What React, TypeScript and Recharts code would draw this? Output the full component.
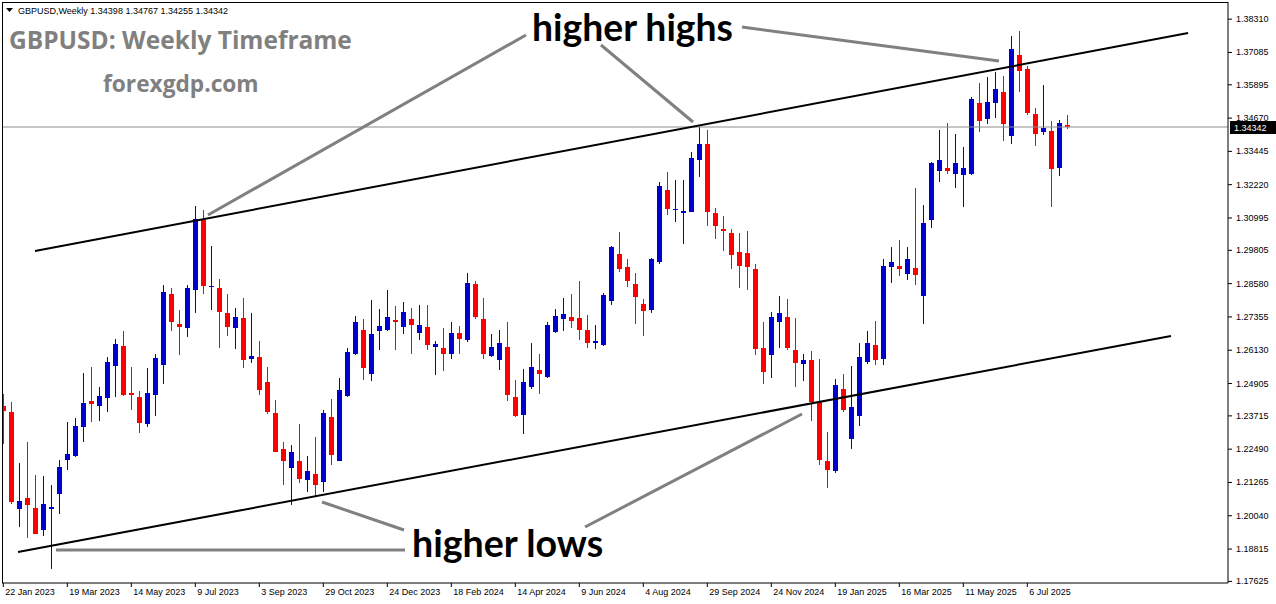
import React from 'react'
import { ComposedChart, Bar, XAxis, YAxis, ReferenceLine } from 'recharts'

// weekly candles, GBPUSD, week of 22 Jan 2023 .. week of 10 Aug 2025
const opens = [
  1.2407, 1.2386, 1.2030, 1.2071, 1.2033, 1.1952, 1.2030, 1.2085, 1.2210, 1.2224,
  1.2329, 1.2425, 1.2409, 1.2438, 1.2556, 1.2628, 1.2455, 1.2441, 1.2340, 1.2448,
  1.2560, 1.2819, 1.2711, 1.2693, 1.2833, 1.3092, 1.2846, 1.2841, 1.2750, 1.2693,
  1.2732, 1.2580, 1.2587, 1.2495, 1.2382, 1.2251, 1.2181, 1.2206, 1.2134, 1.2156,
  1.2130, 1.2368, 1.2207, 1.2445, 1.2598, 1.2686, 1.2527, 1.2682, 1.2688, 1.2725,
  1.2700, 1.2728, 1.2678, 1.2699, 1.2624, 1.2621, 1.2598, 1.2677, 1.2649, 1.2857,
  1.2728, 1.2592, 1.2577, 1.2625, 1.2441, 1.2376, 1.2479, 1.2541, 1.2515, 1.2681,
  1.2729, 1.2736, 1.2732, 1.2686, 1.2638, 1.2634, 1.2794, 1.2968, 1.2919, 1.2857,
  1.2782, 1.2762, 1.2936, 1.3202, 1.3128, 1.3116, 1.3120, 1.3311, 1.3372, 1.3118,
  1.3058, 1.3045, 1.2974, 1.2972, 1.2912, 1.2621, 1.2594, 1.2718, 1.2736, 1.2614,
  1.2564, 1.2577, 1.2423, 1.2206, 1.2168, 1.2472, 1.2285, 1.2372, 1.2570, 1.2634,
  1.2582, 1.2918, 1.2923, 1.2894, 1.2916, 1.2814, 1.3092, 1.3272, 1.3285, 1.3260,
  1.3256, 1.3262, 1.3524, 1.3462, 1.3522, 1.3563, 1.3400, 1.3700, 1.3649, 1.3483,
  1.3415, 1.3420, 1.3282, 1.34398,
]
const highs = [
  1.2452, 1.2423, 1.2199, 1.2275, 1.2154, 1.2150, 1.2116, 1.2210, 1.2348, 1.2365,
  1.2528, 1.2552, 1.2479, 1.2589, 1.2653, 1.2684, 1.2552, 1.2462, 1.2548, 1.2598,
  1.2854, 1.2843, 1.2760, 1.2852, 1.3143, 1.3130, 1.2995, 1.2876, 1.2821, 1.2767,
  1.2804, 1.2750, 1.2648, 1.2552, 1.2431, 1.2274, 1.2264, 1.2340, 1.2224, 1.2293,
  1.2393, 1.2434, 1.2510, 1.2620, 1.2739, 1.2728, 1.2798, 1.2765, 1.2833, 1.2776,
  1.2790, 1.2769, 1.2780, 1.2778, 1.2648, 1.2693, 1.2715, 1.2703, 1.2897, 1.2866,
  1.2805, 1.2674, 1.2688, 1.2715, 1.2504, 1.2545, 1.2639, 1.2599, 1.2717, 1.2765,
  1.2805, 1.2821, 1.2866, 1.2743, 1.2706, 1.2822, 1.2995, 1.3048, 1.2947, 1.2898,
  1.2801, 1.2952, 1.3231, 1.3269, 1.3240, 1.3238, 1.3344, 1.3434, 1.3425, 1.3138,
  1.3106, 1.3060, 1.3045, 1.3053, 1.2930, 1.2718, 1.2754, 1.2814, 1.2801, 1.2732,
  1.2598, 1.2610, 1.2582, 1.2312, 1.2508, 1.2526, 1.2556, 1.2638, 1.2684, 1.2721,
  1.2949, 1.2991, 1.3020, 1.2994, 1.3210, 1.3148, 1.3304, 1.3425, 1.3448, 1.3408,
  1.3362, 1.3544, 1.3595, 1.3618, 1.3635, 1.3623, 1.3769, 1.3789, 1.3659, 1.3503,
  1.3589, 1.3455, 1.3461, 1.34767,
]
const lows = [
  1.2268, 1.2049, 1.1963, 1.1922, 1.1936, 1.1929, 1.1808, 1.2012, 1.2171, 1.2220,
  1.2275, 1.2348, 1.2354, 1.2386, 1.2441, 1.2445, 1.2393, 1.2310, 1.2330, 1.2372,
  1.2490, 1.2684, 1.2594, 1.2660, 1.2750, 1.2818, 1.2762, 1.2621, 1.2667, 1.2618,
  1.2549, 1.2566, 1.2448, 1.2379, 1.2238, 1.2116, 1.2042, 1.2125, 1.2092, 1.2074,
  1.2092, 1.2189, 1.2207, 1.2441, 1.2594, 1.2504, 1.2501, 1.2614, 1.2684, 1.2612,
  1.2672, 1.2598, 1.2652, 1.2614, 1.2520, 1.2538, 1.2582, 1.2600, 1.2645, 1.2728,
  1.2580, 1.2587, 1.2542, 1.2427, 1.2369, 1.2303, 1.2469, 1.2451, 1.2510, 1.2677,
  1.2682, 1.2696, 1.2649, 1.2621, 1.2617, 1.2628, 1.2778, 1.2902, 1.2847, 1.2708,
  1.2667, 1.2749, 1.2930, 1.3109, 1.3085, 1.3002, 1.3120, 1.3249, 1.3071, 1.3024,
  1.2977, 1.2911, 1.2843, 1.2836, 1.2596, 1.2490, 1.2509, 1.2620, 1.2612, 1.2476,
  1.2501, 1.2354, 1.2192, 1.2105, 1.2161, 1.2386, 1.2251, 1.2335, 1.2563, 1.2559,
  1.2559, 1.2862, 1.2887, 1.2873, 1.2854, 1.2711, 1.3064, 1.3233, 1.3261, 1.3210,
  1.3141, 1.3258, 1.3415, 1.3445, 1.3466, 1.3382, 1.3371, 1.3562, 1.3480, 1.3366,
  1.3404, 1.3141, 1.3253, 1.34255,
]
const closes = [
  1.2390, 1.2053, 1.2057, 1.2044, 1.1938, 1.2046, 1.2035, 1.2182, 1.2233, 1.2333,
  1.2418, 1.2416, 1.2445, 1.2570, 1.2637, 1.2448, 1.2448, 1.2347, 1.2455, 1.2584,
  1.2826, 1.2718, 1.2700, 1.2841, 1.3096, 1.2850, 1.2850, 1.2753, 1.2700, 1.2735,
  1.2577, 1.2592, 1.2465, 1.2386, 1.2240, 1.2207, 1.2240, 1.2141, 1.2168, 1.2118,
  1.2382, 1.2229, 1.2467, 1.2607, 1.2715, 1.2549, 1.2672, 1.2703, 1.2736, 1.2718,
  1.2754, 1.2704, 1.2706, 1.2634, 1.2637, 1.2600, 1.2677, 1.2656, 1.2861, 1.2736,
  1.2600, 1.2625, 1.2639, 1.2448, 1.2371, 1.2497, 1.2552, 1.2527, 1.2706, 1.2739,
  1.2747, 1.2722, 1.2689, 1.2639, 1.2648, 1.2817, 1.2991, 1.2912, 1.2866, 1.2807,
  1.2758, 1.2949, 1.3218, 1.3131, 1.3134, 1.3125, 1.3321, 1.3373, 1.3120, 1.3070,
  1.3052, 1.2962, 1.2922, 1.2920, 1.2617, 1.2534, 1.2736, 1.2749, 1.2621, 1.2566,
  1.2577, 1.2423, 1.2210, 1.2174, 1.2485, 1.2393, 1.2405, 1.2589, 1.2638, 1.2578,
  1.2923, 1.2938, 1.2913, 1.2947, 1.2891, 1.3081, 1.3300, 1.3314, 1.3271, 1.3303,
  1.3285, 1.3539, 1.3455, 1.3528, 1.3574, 1.3445, 1.3722, 1.3642, 1.3487, 1.3407,
  1.3431, 1.3278, 1.3449, 1.34342,
]

// bottom axis: candle index of each date label
const dateTicks = [0, 8, 16, 24, 32, 40, 48, 56, 64, 72, 80, 88, 96, 104, 112, 120, 128]
const dateLabels = [
  '22 Jan 2023', '19 Mar 2023', '14 May 2023', '9 Jul 2023', '3 Sep 2023', '29 Oct 2023',
  '24 Dec 2023', '18 Feb 2024', '14 Apr 2024', '9 Jun 2024', '4 Aug 2024', '29 Sep 2024',
  '24 Nov 2024', '19 Jan 2025', '16 Mar 2025', '11 May 2025', '6 Jul 2025',
]
const priceTicks = [
  1.3831, 1.37085, 1.35895, 1.3467, 1.33445, 1.3222, 1.30995, 1.29805, 1.2858,
  1.27355, 1.2613, 1.24905, 1.23715, 1.2249, 1.21265, 1.2004, 1.18815, 1.17625,
]

const lastPrice = 1.34342

// channel lines, [candle index, price]
const upperChannel = [[3.96, 1.2978], [148.1, 1.378]]
const lowerChannel = [[1.84, 1.18706], [145.96, 1.26653]]

const data = opens.map((open, i) => ({
  i,
  open,
  high: highs[i],
  low: lows[i],
  close: closes[i],
  range: [lows[i], highs[i]],
}))

const UP = '#0000CC'
const DOWN = '#FF0000'
const AXIS_FONT = '"Liberation Sans", Arial, sans-serif'

function Candle(props: any) {
  const { x, y, width, height, payload } = props
  const top = Math.min(y, y + height)
  const h = Math.abs(height)
  const { open, high, low, close } = payload
  const span = high - low || 1
  const py = (v: number) => top + ((high - v) / span) * h
  const color = close >= open ? UP : DOWN
  const cx = Math.round(x + width / 2)
  const bTop = py(Math.max(open, close))
  const bBot = py(Math.min(open, close))
  return (
    <g shapeRendering="crispEdges">
      <rect x={cx} y={top} width={1} height={Math.max(1, h)} fill={color} />
      <rect x={cx - 2} y={bTop} width={5} height={Math.max(1, bBot - bTop)} fill={color} />
    </g>
  )
}

function DateTick(props: any) {
  const { x, payload } = props
  const k = dateTicks.indexOf(payload.value)
  return (
    <text x={x + 2} y={595} fontSize={9} fontFamily={AXIS_FONT} fill="#000">
      {dateLabels[k]}
    </text>
  )
}

function PriceTick(props: any) {
  const { x, y, payload } = props
  return (
    <text x={x + 2} y={y + 3} fontSize={9} fontFamily={AXIS_FONT} fill="#000">
      {payload.value.toFixed(5)}
    </text>
  )
}

function PriceTag(props: any) {
  const vb = props.viewBox || {}
  const x = vb.x + vb.width + 2
  const y = vb.y
  return (
    <g>
      <rect x={x} y={y - 6} width={46} height={13} fill="#000" />
      <text x={x + 4} y={y + 4} fontSize={9} fontFamily={AXIS_FONT} fill="#fff">
        {lastPrice.toFixed(5)}
      </text>
    </g>
  )
}

const pointers = [
  [526, 35, 208, 215],
  [601, 45, 693, 122],
  [742, 27, 999, 61],
  [56, 550, 405, 550],
  [322, 502, 404, 530],
  [585, 527, 802, 414],
]

export default function App() {
  return (
    <div style={{ position: 'absolute', left: 0, top: 0, width: 1276, height: 604, background: '#fff' }}>
      <ComposedChart
        width={1276}
        height={604}
        data={data}
        margin={{ top: 2, right: 0, bottom: 0, left: 2 }}
      >
        <XAxis
          dataKey="i"
          type="number"
          domain={[-0.1625, 153.0875]}
          allowDataOverflow
          ticks={dateTicks}
          interval={0}
          tick={<DateTick />}
          height={21}
          tickSize={4}
          axisLine={{ stroke: '#000' }}
          tickLine={{ stroke: '#000' }}
        />
        <YAxis
          orientation="right"
          type="number"
          domain={[1.17566, 1.38941]}
          allowDataOverflow
          ticks={priceTicks}
          interval={0}
          tick={<PriceTick />}
          width={48}
          tickSize={4}
          axisLine={{ stroke: '#000' }}
          tickLine={{ stroke: '#000' }}
        />
        <ReferenceLine
          y={lastPrice}
          stroke="#8C8C8C"
          strokeWidth={1}
          label={<PriceTag />}
        />
        <Bar dataKey="range" barSize={5} shape={<Candle />} isAnimationActive={false} />
        <ReferenceLine
          segment={upperChannel.map(([x, y]) => ({ x, y }))}
          stroke="#000"
          strokeWidth={2}
          ifOverflow="visible"
        />
        <ReferenceLine
          segment={lowerChannel.map(([x, y]) => ({ x, y }))}
          stroke="#000"
          strokeWidth={2}
          ifOverflow="visible"
        />
      </ComposedChart>
      <div
        style={{
          position: 'absolute', left: 2, top: 2, width: 1226, height: 581,
          border: '1px solid #000', borderRight: 'none', borderBottom: 'none',
          boxSizing: 'border-box', pointerEvents: 'none',
        }}
      />
      <svg width={1276} height={604} style={{ position: 'absolute', left: 0, top: 0, pointerEvents: 'none' }}>
        <polygon points="6,8 13,8 9.5,12" fill="#000" />
        <text x={18} y={14} fontSize={9} fontFamily={AXIS_FONT} fill="#000">
          GBPUSD,Weekly  1.34398 1.34767 1.34255 1.34342
        </text>
        <text x={9} y={49} fontSize={24.5} fontWeight={700} fontFamily='"Open Sans", sans-serif' fill="#808080">
          GBPUSD: Weekly Timeframe
        </text>
        <text x={103} y={92} fontSize={22.7} fontWeight={700} fontFamily='"Open Sans", sans-serif' fill="#808080">
          forexgdp.com
        </text>
        {pointers.map(([x1, y1, x2, y2], k) => (
          <line key={k} x1={x1} y1={y1} x2={x2} y2={y2} stroke="#808080" strokeWidth={3} />
        ))}
        <text x={532} y={41} fontSize={37.3} fontWeight={700} fontFamily='Lato, sans-serif' fill="#000">
          higher highs
        </text>
        <text x={412} y={557} fontSize={37.6} fontWeight={700} fontFamily='Lato, sans-serif' fill="#000">
          higher lows
        </text>
      </svg>
    </div>
  )
}
